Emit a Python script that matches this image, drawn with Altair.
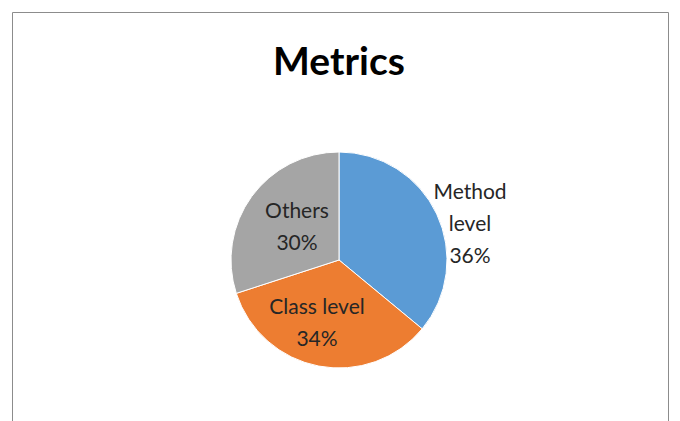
import altair as alt
import pandas as pd

# ---- data ----
title_text = "Metrics"
categories = ["Method level", "Class level", "Others"]
label_lines = ["Method\nlevel", "Class level", "Others"]
values = [36, 34, 30]
colors = ["#5B9BD5", "#ED7D31", "#A5A5A5"]

df = pd.DataFrame({
    "category": categories,
    "label": [f"{l}\n{v}%" for l, v in zip(label_lines, values)],
    "value": values,
    "order": list(range(len(categories))),
})

FONT = "Lato"
CX, CY = 327, 248  # pie centre inside the view

base = alt.Chart(df)

pie = base.mark_arc(radius=108, stroke="white", strokeWidth=1).encode(
    theta=alt.Theta("value:Q", stack=True),
    color=alt.Color("category:N", scale=alt.Scale(domain=categories, range=colors), legend=None),
    order=alt.Order("order:Q"),
    x=alt.value(CX),
    y=alt.value(CY),
)

# position of the first text line of each label (view coordinates)
label_pos = {
    "Method level": (458, 181),
    "Class level": (305, 296),
    "Others": (285, 200),
}

labels = []
for cat in categories:
    px, py = label_pos[cat]
    labels.append(
        base.transform_filter(alt.datum.category == cat)
        .mark_text(font=FONT, fontSize=21, lineBreak="\n", lineHeight=32,
                   align="center", baseline="middle", color="#262626")
        .encode(text="label:N", x=alt.value(px), y=alt.value(py))
    )

title = alt.Chart(alt.Data(values=[{"t": title_text}])).mark_text(
    font=FONT, fontSize=39, fontWeight="bold", align="center",
    baseline="alphabetic", color="#000000"
).encode(text="t:N", x=alt.value(327), y=alt.value(63))

chart = alt.layer(pie, *labels, title).properties(
    width=656,
    height=412,
    padding={"left": 4, "top": 4, "right": 4, "bottom": 0},
    autosize=alt.AutoSizeParams(type="none"),
).configure_view(stroke="#8c8c8c", strokeWidth=1)

chart.save("out.html", embed_options={"renderer": "svg", "actions": False})
